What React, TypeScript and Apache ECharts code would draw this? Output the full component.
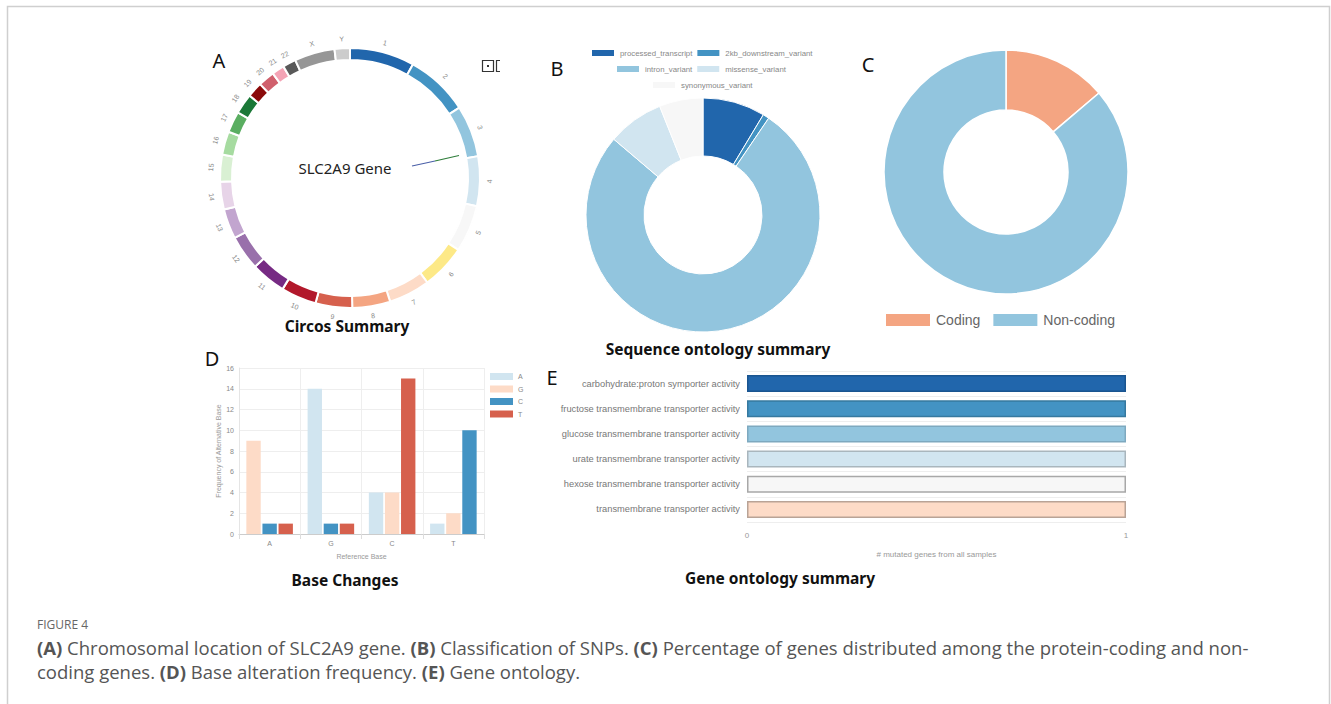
import React, { useEffect, useRef } from 'react';
import * as echarts from 'echarts';

// ---------- DATA ----------
const chromosomes = ['1','2','3','4','5','6','7','8','9','10','11','12','13','14','15','16','17','18','19','20','21','22','X','Y'];
const chromosomeLengthsMb = [249,243,198,191,181,171,159,146,141,136,135,134,115,107,103,90,81,78,59,63,48,51,155,59];

const soNames = ['processed_transcript','2kb_downstream_variant','intron_variant','missense_variant','synonymous_variant'];
const soCounts = [10, 1, 89, 9, 7];

const geneTypes = ['Coding','Non-coding'];
const geneTypeCounts = [16, 100];

const refBases = ['A','G','C','T'];
const altBases = ['A','G','C','T'];
const altA = [0, 14, 4, 1];
const altG = [9, 0, 4, 2];
const altC = [1, 1, 0, 10];
const altT = [1, 1, 15, 0];

const goTerms = [
  'carbohydrate:proton symporter activity',
  'fructose transmembrane transporter activity',
  'glucose transmembrane transporter activity',
  'urate transmembrane transporter activity',
  'hexose transmembrane transporter activity',
  'transmembrane transporter activity',
];
const goCounts = [1, 1, 1, 1, 1, 1];
const goTicks = [0, 1];

// ---------- STYLES ----------
const chromColors = ['#2166ac','#4393c3','#92c5de','#d1e5f0','#f7f7f7','#fde987','#fddbc7','#f4a582','#d6604d','#b2182b','#762a83','#9970ab','#c2a5cf','#e7d4e8','#d9f0d3','#a6dba0','#5aae61','#1b7837','#8b0a0a','#d0606d','#f4a3b5','#595959','#969696','#cccccc'];
const soColors = ['#2166ac','#4393c3','#92c5de','#d1e5f0','#f7f7f7'];
const geneTypeColors = ['#f4a582','#92c5de'];
const altColors: Record<string,string> = { A: '#d1e5f0', G: '#fddbc7', C: '#4393c3', T: '#d6604d' };
const goColors = ['#2166ac','#4393c3','#92c5de','#d1e5f0','#f7f7f7','#fddbc7'];
const goBorders = ['#1a5590','#36799f','#7ea9bf','#a9b6bd','#a8a8a8','#b9a396'];

const NARROW = '"Liberation Sans Narrow", "Liberation Sans", sans-serif';
const SANS = '"Liberation Sans", Arial, sans-serif';
const TITLE = '"Noto Sans", "Open Sans", sans-serif';
const CAPTION = '"Open Sans", sans-serif';

export default function App() {
  const ref = useRef<HTMLDivElement>(null);
  useEffect(() => {
    if (!ref.current) return;
    const chart = echarts.init(ref.current, undefined, { renderer: 'svg' });

    const altSeriesData: Record<string, number[]> = { A: altA, G: altG, C: altC, T: altT };
    const slotSeries = [0, 1, 2].map((k) => ({
      type: 'bar',
      name: 'slot' + k,
      xAxisIndex: 0,
      yAxisIndex: 0,
      barGap: '12%',
      barCategoryGap: '24%',
      silent: true,
      data: refBases.map((rb, i) => {
        const alts = altBases.filter((a) => a !== rb);
        const alt = alts[k];
        return { value: altSeriesData[alt][i], itemStyle: { color: altColors[alt] } };
      }),
    }));
    const legendSeries = altBases.map((a) => ({
      type: 'bar',
      name: a,
      xAxisIndex: 2,
      yAxisIndex: 2,
      itemStyle: { color: altColors[a] },
      data: [],
    }));

    const title = (text: string, x: number, y: number) => ({
      type: 'text', x, y, silent: true,
      style: { text, fill: '#111', font: `bold 15.5px ${TITLE}`, textAlign: 'center', textVerticalAlign: 'middle' },
    });
    const letter = (text: string, x: number, y: number) => ({
      type: 'text', x, y, silent: true,
      style: { text, fill: '#111', font: `20px ${TITLE}`, textAlign: 'center', textVerticalAlign: 'middle' },
    });
    const smallLegend = { itemWidth: 24, itemHeight: 8, itemGap: 3, padding: 0, icon: 'rect', selectedMode: false,
      textStyle: { fontSize: 7.8, color: '#888', fontFamily: NARROW } };

    const captionRich = { b: { fontWeight: 'bold', fill: '#555', fontSize: 18.5, fontFamily: CAPTION } };

    const option: any = {
      animation: false,
      backgroundColor: '#fff',
      legend: [
        { ...smallLegend, data: soNames.slice(0, 2), left: 590, top: 48 },
        { ...smallLegend, data: soNames.slice(2, 4), left: 615, top: 64 },
        { ...smallLegend, data: soNames.slice(4), left: 651, top: 80 },
        {
          data: geneTypes, left: 884, top: 312, itemWidth: 46, itemHeight: 14, itemGap: 11, padding: 0,
          icon: 'rect', textStyle: { fontSize: 14, color: '#666', fontFamily: SANS }, selectedMode: false,
        },
        {
          data: altBases, orient: 'vertical', left: 490, top: 373, itemWidth: 23, itemHeight: 7, itemGap: 5.5, padding: 0,
          icon: 'rect', textStyle: { fontSize: 7, color: '#888', fontFamily: NARROW }, selectedMode: false,
        },
      ],
      grid: [
        { left: 239, top: 368, width: 245, height: 166 },
        { left: 747, top: 371, width: 379, height: 151 },
        { left: 0, top: 0, width: 1, height: 1, show: false },
      ],
      xAxis: [
        {
          gridIndex: 0, type: 'category', data: refBases,
          axisLine: { lineStyle: { color: '#ccc' } },
          axisTick: { show: true, lineStyle: { color: '#ddd' } },
          splitLine: { show: true, lineStyle: { color: '#eee' } },
          axisLabel: { fontSize: 7, color: '#888', fontFamily: NARROW, margin: 6 },
          name: 'Reference Base', nameLocation: 'middle', nameGap: 19,
          nameTextStyle: { fontSize: 7, color: '#999', fontFamily: NARROW },
        },
        {
          gridIndex: 1, type: 'value', min: goTicks[0], max: goTicks[goTicks.length - 1], interval: 1,
          axisLine: { show: false }, axisTick: { show: false }, splitLine: { show: false },
          axisLabel: { fontSize: 8, color: '#999', fontFamily: NARROW, margin: 9 },
          name: '# mutated genes from all samples', nameLocation: 'middle', nameGap: 28,
          nameTextStyle: { fontSize: 8, color: '#999', fontFamily: NARROW },
        },
        { gridIndex: 2, type: 'category', show: false, data: [] },
      ],
      yAxis: [
        {
          gridIndex: 0, type: 'value', min: 0, max: 16, interval: 2,
          axisLine: { show: true, lineStyle: { color: '#e5e5e5' } },
          splitLine: { lineStyle: { color: '#eee' } },
          axisLabel: { fontSize: 7, color: '#888', fontFamily: NARROW, margin: 5 },
          name: 'Frequency of Alternative Base', nameLocation: 'middle', nameGap: 16,
          nameTextStyle: { fontSize: 7, color: '#999', fontFamily: NARROW },
        },
        {
          gridIndex: 1, type: 'category', data: goTerms, inverse: true,
          axisLine: { show: false }, axisTick: { show: false },
          splitLine: { show: true, lineStyle: { color: '#eee' } },
          axisLabel: { fontSize: 9.3, color: '#777', fontFamily: NARROW, margin: 7 },
        },
        { gridIndex: 2, type: 'value', show: false },
      ],
      series: [
        {
          type: 'pie', name: 'circos', center: [350, 178], radius: [118, 130], startAngle: 90,
          silent: true, label: { show: false }, labelLine: { show: false },
          itemStyle: { borderColor: '#fff', borderWidth: 2 },
          data: chromosomes.map((c, i) => ({ name: c, value: chromosomeLengthsMb[i], itemStyle: { color: chromColors[i] } })),
        },
        {
          type: 'pie', name: 'circosLabels', center: [350, 178], radius: [131, 142], startAngle: 90,
          silent: true, labelLine: { show: false },
          itemStyle: { color: 'rgba(0,0,0,0)' },
          label: { show: true, position: 'inside', rotate: 'tangential', fontSize: 7, color: '#888', fontFamily: SANS, formatter: '{b}' },
          data: chromosomes.map((c, i) => ({ name: c, value: chromosomeLengthsMb[i] })),
        },
        {
          type: 'pie', name: 'so', center: [703, 215], radius: [59, 117], startAngle: 90,
          silent: true, label: { show: false }, labelLine: { show: false },
          itemStyle: { borderColor: '#fff', borderWidth: 1 },
          data: soNames.map((n, i) => ({ name: n, value: soCounts[i], itemStyle: { color: soColors[i] } })),
        },
        {
          type: 'pie', name: 'geneType', center: [1006, 172], radius: [62, 122], startAngle: 90,
          silent: true, label: { show: false }, labelLine: { show: false },
          itemStyle: { borderColor: '#fff', borderWidth: 1.5 },
          data: geneTypes.map((n, i) => ({ name: n, value: geneTypeCounts[i], itemStyle: { color: geneTypeColors[i] } })),
        },
        ...slotSeries,
        ...legendSeries,
        {
          type: 'bar', name: 'go', xAxisIndex: 1, yAxisIndex: 1, barWidth: 17, silent: true,
          data: goCounts.map((v, i) => ({ value: v, itemStyle: { color: goColors[i], borderColor: goBorders[i], borderWidth: 1.5 } })),
        },
      ],
      graphic: [
        { type: 'rect', silent: true, shape: { x: 7.5, y: 6.5, width: 1322, height: 760 }, style: { fill: 'none', stroke: '#cfcfcf', lineWidth: 1.5 } },
        letter('A', 219, 60),
        letter('B', 557, 68),
        letter('C', 868, 64),
        letter('D', 212, 358),
        letter('E', 552, 377),
        title('Circos Summary', 347, 326),
        title('Sequence ontology summary', 718, 349),
        title('Base Changes', 345, 580),
        title('Gene ontology summary', 780, 578),
        {
          type: 'text', x: 345, y: 168, silent: true,
          style: { text: 'SLC2A9 Gene', fill: '#222', font: `15px ${TITLE}`, textAlign: 'center', textVerticalAlign: 'middle' },
        },
        { type: 'line', silent: true, shape: { x1: 412, y1: 166, x2: 435, y2: 161 }, style: { stroke: '#4a5fa8', lineWidth: 1.2 } },
        { type: 'line', silent: true, shape: { x1: 435, y1: 161, x2: 459, y2: 155.5 }, style: { stroke: '#2e7d3a', lineWidth: 1.2 } },
        { type: 'rect', silent: true, shape: { x: 482.5, y: 60.5, width: 11, height: 11 }, style: { fill: 'none', stroke: '#333', lineWidth: 1.2 } },
        { type: 'rect', silent: true, shape: { x: 487, y: 65, width: 2, height: 2 }, style: { fill: '#333' } },
        { type: 'polyline', silent: true, shape: { points: [[500, 60.5], [496.5, 60.5], [496.5, 71.5], [500, 71.5]] }, style: { fill: 'none', stroke: '#333', lineWidth: 1.2 } },
        {
          type: 'text', x: 37, y: 624, silent: true,
          style: { text: 'FIGURE 4', fill: '#666', fontSize: 12, fontFamily: CAPTION, textVerticalAlign: 'middle' },
        },
        {
          type: 'text', x: 37, y: 647, silent: true,
          style: {
            text: '{b|(A)} Chromosomal location of SLC2A9 gene. {b|(B)} Classification of SNPs. {b|(C)} Percentage of genes distributed among the protein-coding and non-',
            fill: '#555', fontSize: 18.5, fontFamily: CAPTION, textVerticalAlign: 'middle', rich: captionRich,
          },
        },
        {
          type: 'text', x: 37, y: 671, silent: true,
          style: {
            text: 'coding genes. {b|(D)} Base alteration frequency. {b|(E)} Gene ontology.',
            fill: '#555', fontSize: 18.5, fontFamily: CAPTION, textVerticalAlign: 'middle', rich: captionRich,
          },
        },
      ],
    };
    chart.setOption(option);
    return () => chart.dispose();
  }, []);
  return <div ref={ref} style={{ position: 'fixed', left: 0, top: 0, width: 1331, height: 704 }} />;
}
